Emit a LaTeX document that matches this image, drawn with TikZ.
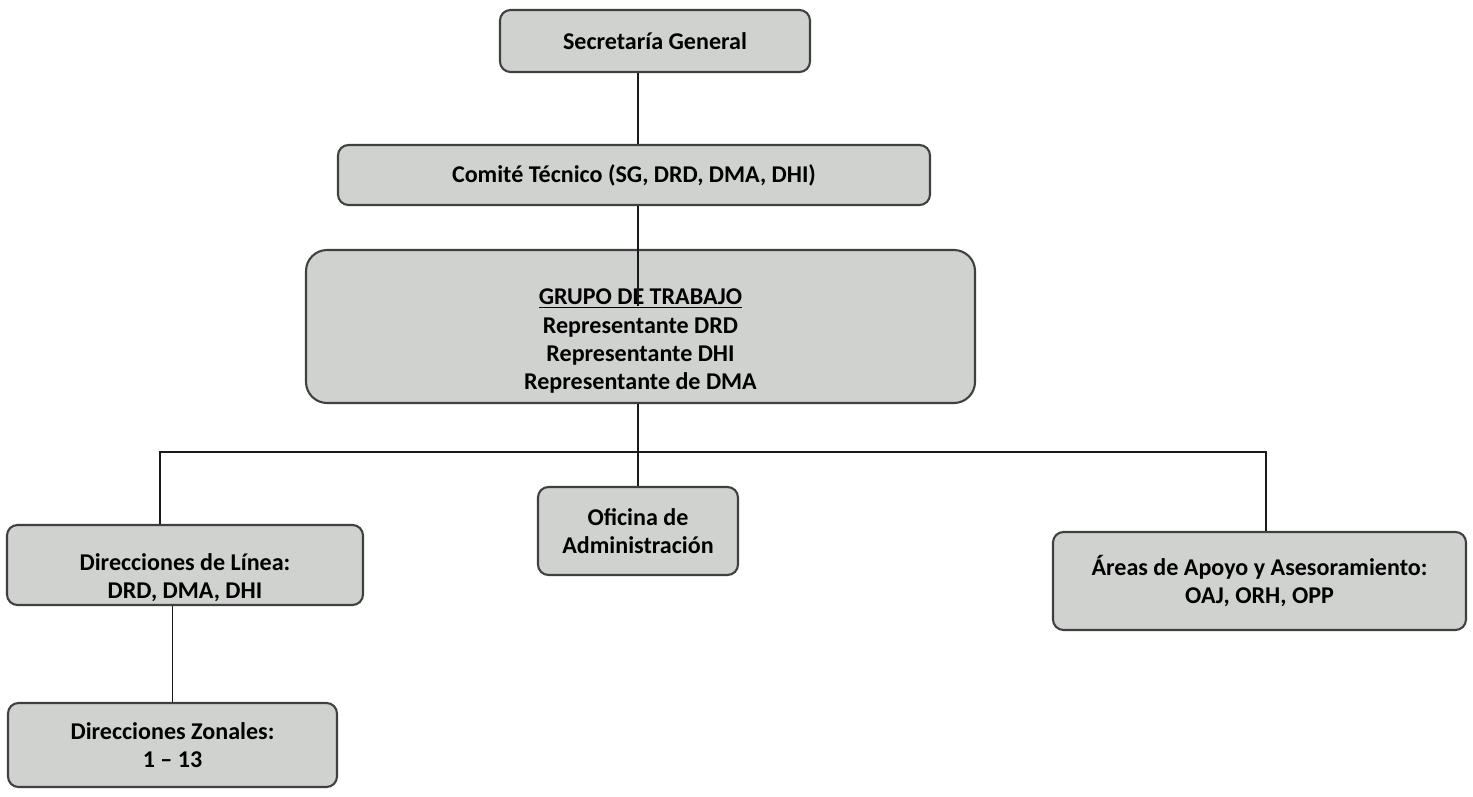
\documentclass[tikz,border=0pt]{standalone}
\usepackage{fontspec}
\setmainfont{Carlito}
\usepackage{xcolor}
\usepackage{tikz}
\usetikzlibrary{positioning,calc}

\begin{document}
\begin{tikzpicture}[
  font=\fontsize{13.7}{16}\selectfont\bfseries,
  orgbox/.style={
    draw=black!75,
    line width=1.2pt,
    fill=boxgray,
    rounded corners=6pt,
    align=center,
    inner sep=0pt
  },
  link/.style={line width=0.85pt, draw=black!90}
]

\definecolor{boxgray}{RGB}{208,210,208}

\useasboundingbox (0,0) rectangle (29.46,15.92);

% The boxes, top to bottom.
\node[orgbox, minimum width=6.20cm, minimum height=1.24cm]
  (secretaria) at (13.10,15.10) {Secretaría General};
\node[orgbox, minimum width=11.84cm, minimum height=1.20cm]
  (comite) at (12.68,12.42) {Comité Técnico (SG, DRD, DMA, DHI)};
\node[orgbox, rounded corners=12pt, minimum width=13.38cm, minimum height=3.06cm]
  (grupo) at (12.81,9.39)
  {\rule{0pt}{0.9cm}\underline{GRUPO DE TRABAJO}\\Representante DRD\\Representante DHI\\Representante de DMA};
\node[orgbox, minimum width=4.00cm, minimum height=1.76cm]
  (oficina) at (12.76,5.30) {Oficina de\\Administración};
\node[orgbox, minimum width=7.12cm, minimum height=1.60cm]
  (linea) at (3.70,4.62) {\rule{0pt}{0.85cm}Direcciones de Línea:\\DRD, DMA, DHI};
\node[orgbox, minimum width=8.26cm, minimum height=1.96cm]
  (areas) at (25.19,4.30) {Áreas de Apoyo y Asesoramiento:\\OAJ, ORH, OPP};
\node[orgbox, minimum width=6.58cm, minimum height=1.68cm]
  (zonales) at (3.45,1.02) {Direcciones Zonales:\\1 -- 13};

% Spine and horizontal bus.
\coordinate (spine) at (12.76,6.88);
\coordinate (busL) at (3.20,6.88);
\coordinate (busR) at (25.32,6.88);
\coordinate (spineend) at ([yshift=-1.15cm]grupo.north -| spine);

\draw[link] (secretaria.south -| spine) -- (comite.north -| spine);
\draw[link] (comite.south -| spine) -- (spineend);
\draw[link] (grupo.south -| spine) -- (oficina.north -| spine);
\draw[link] (busL |- linea.north) -- (busL) -- (busR) -- (busR |- areas.north);
\draw[link] (zonales.north) -- (zonales.north |- linea.south);

\end{tikzpicture}
\end{document}
